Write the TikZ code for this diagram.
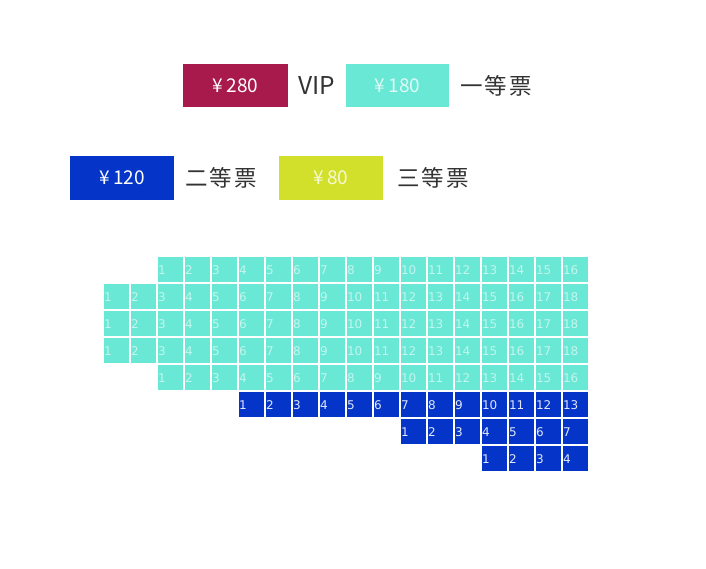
\documentclass[tikz,border=0pt]{standalone}
\usepackage{fontspec}
\setmainfont{Noto Sans CJK SC}
\newfontfamily\seatfont{DejaVu Sans}
\usepackage{tikz}
\usetikzlibrary{positioning}

\definecolor{vipred}{HTML}{A81A4B}
\definecolor{teal1}{HTML}{68E8D5}
\definecolor{blue2}{HTML}{0434C8}
\definecolor{lime3}{HTML}{D3E02B}

\begin{document}
\begin{tikzpicture}[
  x=1pt, y=-1pt,
  price/.style={minimum width=104pt, minimum height=43pt, inner sep=0pt, text=white,
    font=\fontsize{19}{21}\selectfont},
  tag/.style={inner sep=0pt, text=black!80, font=\fontsize{22.5}{24}\selectfont},
  seat/.style={minimum width=25pt, minimum height=25pt, inner sep=0pt, text width=25pt,
    text height=9pt, text depth=0pt, align=left, font=\seatfont\fontsize{12}{12}\selectfont},
  tierone/.style={seat, fill=teal1, text=white!60!teal1},
  tiertwo/.style={seat, fill=blue2, text=white!88!blue2}
]
\useasboundingbox (0,0) rectangle (706,569);
% --- legenda ---
\node[price, fill=vipred, minimum width=105pt] (pvip) at (235.5,85.5) {¥\,280};
\node[tag, right=10pt of pvip, font=\fontsize{24.5}{26}\selectfont] (tvip) {VIP};
\node[price, fill=teal1, text=white!80!teal1, minimum width=103pt] (pone) at (397.5,85.5) {¥\,180};
\node[tag, right=11pt of pone] (tone) {一\hspace{2pt}等\hspace{2pt}票};
\node[price, fill=blue2, minimum height=44pt] (ptwo) at (122,178) {¥\,120};
\node[tag, right=11pt of ptwo] (ttwo) {二\hspace{2pt}等\hspace{2pt}票};
\node[price, fill=lime3, text=white!80!lime3, minimum height=44pt] (pthree) at (331,178) {¥\,80};
\node[tag, right=14pt of pthree] (tthree) {三\hspace{2pt}等\hspace{2pt}票};
% --- posti ---
\foreach \r/\c/\n/\s in {1/3/16/tierone, 2/1/18/tierone, 3/1/18/tierone, 4/1/18/tierone,
    5/3/16/tierone, 6/6/13/tiertwo, 7/12/7/tiertwo, 8/15/4/tiertwo}
  \foreach \k in {1,...,\n}
    \node[\s] (s\r-\k) at ({116.5+(\c+\k-2)*27},{269.5+(\r-1)*27}) {\k};
\end{tikzpicture}
\end{document}
